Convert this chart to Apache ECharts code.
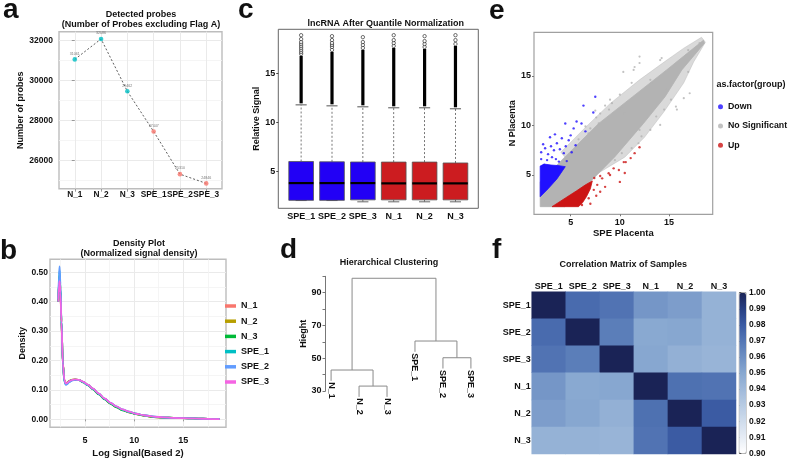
<!DOCTYPE html>
<html>
<head>
<meta charset="utf-8">
<title>Microarray QC figure</title>
<script src="https://cdn.jsdelivr.net/npm/echarts@6.0.0/dist/echarts.min.js"></script>
<style>
html,body{margin:0;padding:0;background:#ffffff;}
#chart{width:789px;height:460px;}
</style>
</head>
<body>
<div id="chart"></div>
<script>
// ================= DATA =================
// (a) Detected probes
const probeSamples = ['N_1', 'N_2', 'N_3', 'SPE_1', 'SPE_2', 'SPE_3'];
const probeCounts = [31061, 32086, 29462, 27447, 25310, 24846];
const probeGroups = ['N', 'N', 'N', 'SPE', 'SPE', 'SPE'];
const probeTicks = [26000, 28000, 30000, 32000];
const probeMinorTicks = [25000, 27000, 29000, 31000];

// (b) Density plot
const densitySeriesNames = ['N_1', 'N_2', 'N_3', 'SPE_1', 'SPE_2', 'SPE_3'];
const densityX = [2.28, 2.35, 2.42, 2.5, 2.6, 2.75, 2.9, 3.05, 3.2, 3.4, 3.7, 4.0, 4.4, 4.8, 5.3, 5.8,
  6.4, 7.0, 7.6, 8.2, 8.8, 9.5, 10.2, 11, 12, 13, 14, 15, 16, 17, 18, 18.7];
const densityN1 = [0.40, 0.46, 0.48, 0.44, 0.33, 0.19, 0.133, 0.123, 0.126, 0.131, 0.134, 0.135, 0.133, 0.127, 0.117, 0.104,
  0.086, 0.069, 0.054, 0.042, 0.032, 0.024, 0.018, 0.013, 0.008, 0.006, 0.005, 0.004, 0.003, 0.002, 0.001, 0.0005];
const densityN2 = [0.40, 0.46, 0.485, 0.44, 0.33, 0.19, 0.133, 0.122, 0.125, 0.131, 0.135, 0.136, 0.134, 0.127, 0.117, 0.103,
  0.086, 0.069, 0.054, 0.042, 0.032, 0.024, 0.018, 0.013, 0.008, 0.006, 0.005, 0.004, 0.003, 0.002, 0.001, 0.0005];
const densityN3 = [0.40, 0.465, 0.49, 0.445, 0.335, 0.19, 0.131, 0.12, 0.123, 0.13, 0.134, 0.135, 0.133, 0.126, 0.116, 0.102,
  0.085, 0.068, 0.053, 0.041, 0.031, 0.024, 0.018, 0.013, 0.008, 0.006, 0.005, 0.004, 0.003, 0.002, 0.001, 0.0005];
const densitySPE1 = [0.40, 0.475, 0.505, 0.45, 0.335, 0.187, 0.13, 0.119, 0.121, 0.128, 0.133, 0.135, 0.133, 0.127, 0.117, 0.104,
  0.087, 0.070, 0.055, 0.043, 0.033, 0.025, 0.019, 0.014, 0.009, 0.006, 0.005, 0.004, 0.003, 0.002, 0.001, 0.0005];
const densitySPE2 = [0.41, 0.49, 0.52, 0.46, 0.34, 0.185, 0.128, 0.117, 0.12, 0.127, 0.132, 0.134, 0.133, 0.127, 0.117, 0.104,
  0.087, 0.070, 0.056, 0.044, 0.034, 0.026, 0.019, 0.014, 0.009, 0.007, 0.005, 0.004, 0.003, 0.002, 0.001, 0.0005];
const densitySPE3 = [0.40, 0.455, 0.47, 0.43, 0.33, 0.19, 0.135, 0.122, 0.124, 0.130, 0.134, 0.136, 0.134, 0.128, 0.118, 0.105,
  0.088, 0.071, 0.056, 0.044, 0.034, 0.026, 0.019, 0.014, 0.009, 0.007, 0.005, 0.004, 0.003, 0.002, 0.001, 0.0005];
const densityTicksX = [5, 10, 15];
const densityMinorX = [2.5, 7.5, 12.5, 17.5];
const densityTicksY = [0, 0.1, 0.2, 0.3, 0.4, 0.5];
const densityMinorY = [0.05, 0.15, 0.25, 0.35, 0.45];

// (c) Boxplot after quantile normalization
const boxSamples = ['SPE_1', 'SPE_2', 'SPE_3', 'N_1', 'N_2', 'N_3'];
const boxGroups = ['SPE', 'SPE', 'SPE', 'N', 'N', 'N'];
const boxLow = [2.05, 2.05, 1.92, 1.92, 1.92, 1.92];
const boxQ1 = [2.07, 2.07, 2.12, 2.12, 2.12, 2.12];
const boxMedian = [3.83, 3.83, 3.83, 3.8, 3.8, 3.8];
const boxQ3 = [6.03, 6.0, 5.98, 5.97, 5.97, 5.88];
const boxHigh = [11.8, 11.7, 11.6, 11.5, 11.5, 11.4];
const outlierDenseTop = [16.8, 17.2, 17.4, 17.6, 17.5, 17.8];
const outlierSparse = [
  [17.0, 17.2, 17.4, 17.6, 17.8, 18.0, 18.2, 18.5, 18.9],
  [17.4, 17.7, 17.9, 18.1, 18.4, 18.8],
  [17.6, 17.9, 18.2, 18.7],
  [17.8, 18.1, 18.4, 18.9],
  [17.7, 18.0, 18.3, 18.8],
  [18.0, 18.4, 18.9]
];
const boxTicksY = [5, 10, 15];

// (d) Hierarchical clustering (leaves in plotted order; merge rows: negative = leaf, positive = earlier merge)
const dendroLabels = ['N_1', 'N_2', 'N_3', 'SPE_1', 'SPE_2', 'SPE_3'];
const dendroMerge = [[-2, -3], [-1, 1], [-5, -6], [-4, 3], [2, 4]];
const dendroHeights = [33.0, 42.8, 50.3, 60.5, 98.8];
const dendroTicks = [30, 40, 50, 60, 70, 80, 90, 100];
const dendroTickLabels = [30, 50, 70, 90];

// (e) Scatter SPE vs N placenta
const scatterTicks = [5, 10, 15];
const grayHaloPolygon = [[4.0, 7.3], [6.5, 9.8], [9.0, 12.2], [12.0, 14.6], [14.5, 16.4], [16.5, 17.8], [18.3, 18.9],
  [18.7, 18.4], [17.5, 16.4], [16.5, 14.3], [14.5, 11.4], [12.5, 8.8], [10.5, 6.8], [8.0, 5.3], [6.5, 4.3]];
const grayCorePolygon = [[1.9, 1.8], [1.9, 4.3], [4.45, 6.85], [7.85, 10.2], [11.3, 12.9], [14.75, 15.6], [16.5, 17.0],
  [18.5, 18.6], [18.6, 18.3], [16.3, 15.6], [14.6, 12.9], [12.4, 10.2], [9.5, 6.85], [6.15, 3.48], [4.4, 1.8]];
const bluePolygon = [[1.9, 2.8], [1.9, 5.9], [2.3, 6.1], [3.0, 6.0], [3.7, 5.95], [4.45, 5.84], [3.6, 4.6], [2.7, 3.6]];
const redPolygon = [[3.1, 1.8], [4.5, 2.7], [5.6, 3.4], [6.5, 4.0], [7.2, 4.4], [7.0, 3.6], [6.6, 2.8], [6.2, 2.2], [5.8, 1.8]];
const grayPoints = [[18.1, 18.3], [16.95, 17.6], [16.8, 17.1], [14.25, 16.8], [12.0, 16.95], [12.0, 16.3], [10.35, 15.4],
  [11.4, 15.6], [11.2, 14.3], [13.1, 14.6], [13.2, 14.3], [10.0, 13.1], [9.0, 12.6], [9.2, 12.25], [8.0, 11.2],
  [10.2, 11.7], [10.5, 11.2], [14.8, 13.6], [15.2, 12.6], [15.7, 11.9], [16.5, 12.75], [17.1, 13.25], [14.5, 11.6],
  [13.7, 10.9], [14.1, 10.05], [13.1, 9.55], [12.0, 9.55], [12.2, 8.9], [14.1, 16.6], [11.5, 15.9], [16.95, 15.4],
  [15.8, 11.6], [8.9, 11.6], [7.85, 10.2], [7.0, 9.7], [10.2, 7.2], [11.2, 7.7], [9.5, 6.5], [11.9, 8.2],
  [6.5, 9.9], [5.8, 8.6], [7.5, 11.5], [8.5, 12.0], [6.8, 9.2], [7.6, 10.8]];
const bluePoints = [[7.5, 12.9], [6.3, 12.0], [7.3, 11.3], [4.45, 10.2], [5.6, 10.4], [6.1, 10.2], [5.3, 9.7], [6.5, 9.4],
  [2.9, 8.8], [4.1, 8.7], [5.0, 9.0], [3.6, 8.2], [2.4, 7.7], [4.5, 7.9], [3.3, 7.5], [4.3, 7.2], [3.1, 6.8], [2.6, 6.5],
  [3.8, 6.35], [2.3, 6.0], [2.0, 7.3], [2.2, 8.1], [3.0, 7.9], [2.7, 7.1], [3.9, 7.6], [4.8, 8.5], [3.4, 9.1], [5.5, 8.0],
  [2.0, 6.6], [3.5, 6.6], [4.6, 6.4], [5.1, 7.3]];
const redPoints = [[11.1, 6.7], [10.4, 6.3], [9.9, 5.5], [9.37, 5.67], [8.86, 5.17], [10.0, 4.3], [8.2, 4.66], [8.5, 3.8],
  [7.7, 4.0], [7.35, 3.5], [6.5, 3.15], [6.83, 2.65], [5.8, 2.3], [6.15, 1.97], [12.0, 7.8], [11.5, 7.2], [10.5, 5.2],
  [10.6, 6.3], [8.0, 4.9], [7.4, 4.7], [9.0, 5.0], [7.6, 2.9], [7.0, 2.1], [8.0, 3.3]];

// (f) Correlation matrix
const corrLabels = ['SPE_1', 'SPE_2', 'SPE_3', 'N_1', 'N_2', 'N_3'];
const corrMatrix = [
  [1.000, 0.974, 0.971, 0.957, 0.954, 0.944],
  [0.974, 1.000, 0.967, 0.949, 0.950, 0.944],
  [0.971, 0.967, 1.000, 0.950, 0.945, 0.943],
  [0.957, 0.949, 0.950, 1.000, 0.972, 0.971],
  [0.954, 0.950, 0.945, 0.972, 1.000, 0.980],
  [0.944, 0.944, 0.943, 0.971, 0.980, 1.000]
];
const colorbarTicks = [0.90, 0.91, 0.92, 0.93, 0.94, 0.95, 0.96, 0.97, 0.98, 0.99, 1.00];

// ================= STYLE =================
const FONT = '"Liberation Sans", Arial, Helvetica, sans-serif';
const TXT = '#111111';
const lab = (size, extra) => Object.assign({fontFamily: FONT, fontWeight: 'bold', fontSize: size || 9, color: TXT,
  hideOverlap: false, showMinLabel: true, showMaxLabel: true}, extra || {});
const nameStyle = (size) => ({fontFamily: FONT, fontWeight: 'bold', fontSize: size || 9, color: TXT});
const GRIDLINE = '#EAEAEA';
const MINORLINE = '#F3F3F3';
const groupColor = {N: '#00BFC4', SPE: '#F8766D'};
const boxFill = {SPE: '#2200F5', N: '#CC1C20'};
const densityColors = ['#F8766D', '#B79F00', '#00BA38', '#00BFC4', '#619CFF', '#F564E3'];
const cbColors = ['#ffffff', '#e6ecf5', '#cfdcec', '#b7cbe3', '#9fb9da', '#87a7d0', '#6d8fc3', '#5376b5', '#3b5ba3', '#273f82', '#1a2356'];

function minorAxis(gridIndex, min, max, values, position) {
  return {gridIndex, type: 'value', min, max, position,
    axisLine: {show: false}, axisTick: {show: false, customValues: values}, axisLabel: {show: false},
    splitLine: {show: true, lineStyle: {color: MINORLINE, width: 0.8}}};
}

const grid = [
  {left: 59, top: 31.7, width: 163, height: 157, show: true, borderColor: '#BDBDBD', borderWidth: 1.4, outerBoundsMode: 'none'},
  {left: 50, top: 259.3, width: 176, height: 168, show: true, borderColor: '#BDBDBD', borderWidth: 1.4, outerBoundsMode: 'none'},
  {left: 278.3, top: 29.3, width: 200, height: 179, show: true, borderColor: '#666', borderWidth: 1, outerBoundsMode: 'none'},
  {left: 325.5, top: 276.3, width: 151, height: 114.7, show: false, outerBoundsMode: 'none'},
  {left: 534, top: 32.3, width: 178.7, height: 182, show: true, borderColor: '#A0A0A0', borderWidth: 1.2, outerBoundsMode: 'none'},
  {left: 531.7, top: 291.7, width: 204.3, height: 162.3, show: false, outerBoundsMode: 'none'},
  {left: 739.3, top: 292.7, width: 6.7, height: 160.6, show: true, borderColor: '#888', borderWidth: 0.8, outerBoundsMode: 'none'}
];

const probeIdx = probeSamples.map((_, i) => i);
const boxIdx = boxSamples.map((_, i) => i + 1);

const xAxis = [
  // 0: a
  {gridIndex: 0, type: 'value', min: -0.6, max: 5.6, axisLine: {show: false},
    axisTick: {length: 3, customValues: probeIdx, lineStyle: {color: '#999'}},
    axisLabel: Object.assign({customValues: probeIdx, formatter: v => probeSamples[Math.round(v)], margin: 2}, lab(8.3)),
    splitLine: {show: true, lineStyle: {color: GRIDLINE, width: 1}}},
  // 1: b
  {gridIndex: 1, type: 'value', min: 1.44, max: 19.34, axisLine: {show: false},
    axisTick: {length: 2, customValues: densityTicksX, lineStyle: {color: '#999'}},
    axisLabel: Object.assign({customValues: densityTicksX, margin: 9}, lab(9)),
    splitLine: {show: true, lineStyle: {color: GRIDLINE, width: 1}},
    name: 'Log Signal(Based 2)', nameLocation: 'middle', nameGap: 21, nameTextStyle: nameStyle(9.5)},
  // 2: b minor
  minorAxis(1, 1.44, 19.34, densityMinorX, 'top'),
  // 3: c
  {gridIndex: 2, type: 'value', min: 0.26, max: 6.74, axisLine: {show: false}, axisTick: {show: false, customValues: boxIdx},
    axisLabel: Object.assign({customValues: boxIdx, formatter: v => boxSamples[Math.round(v) - 1], margin: 4}, lab(9)),
    splitLine: {show: false}},
  // 4: d
  {gridIndex: 3, type: 'value', min: 0.8, max: 6.2, show: false},
  // 5: e
  {gridIndex: 4, type: 'value', min: 1.27, max: 19.44, axisLine: {show: false},
    axisTick: {length: 2, customValues: scatterTicks, lineStyle: {color: '#777'}},
    axisLabel: Object.assign({customValues: scatterTicks, margin: 4}, lab(9)),
    splitLine: {show: false},
    name: 'SPE Placenta', nameLocation: 'middle', nameGap: 11, nameTextStyle: nameStyle(9.5)},
  // 6: f
  {gridIndex: 5, type: 'category', data: corrLabels, position: 'top', axisLine: {show: false}, axisTick: {show: false},
    axisLabel: Object.assign({margin: 1, interval: 0}, lab(9)), splitLine: {show: false}},
  // 7: colorbar
  {gridIndex: 6, type: 'value', min: 0, max: 1, show: false}
];

const yAxis = [
  // 0: a
  {gridIndex: 0, type: 'value', min: 24580, max: 32450, axisLine: {show: false},
    axisTick: {length: 3, customValues: probeTicks, lineStyle: {color: '#999'}},
    axisLabel: Object.assign({customValues: probeTicks, formatter: v => String(Math.round(v)), margin: 6}, lab(8.5)),
    splitLine: {show: true, lineStyle: {color: GRIDLINE, width: 1}},
    name: 'Number of probes', nameLocation: 'middle', nameGap: 29, nameTextStyle: nameStyle(9)},
  // 1: a minor
  minorAxis(0, 24580, 32450, probeMinorTicks, 'right'),
  // 2: b
  {gridIndex: 1, type: 'value', min: -0.027, max: 0.544, axisLine: {show: false},
    axisTick: {show: false, customValues: densityTicksY},
    axisLabel: Object.assign({customValues: densityTicksY, formatter: v => v.toFixed(2), margin: 2}, lab(8.5)),
    splitLine: {show: true, lineStyle: {color: GRIDLINE, width: 1}},
    name: 'Density', nameLocation: 'middle', nameGap: 23, nameTextStyle: nameStyle(9)},
  // 3: b minor
  minorAxis(1, -0.027, 0.544, densityMinorY, 'right'),
  // 4: c
  {gridIndex: 2, type: 'value', min: 1.26, max: 19.5, axisLine: {show: false},
    axisTick: {length: 2, customValues: boxTicksY, lineStyle: {color: '#444'}},
    axisLabel: Object.assign({customValues: boxTicksY, margin: 3}, lab(9)),
    splitLine: {show: false},
    name: 'Relative Signal', nameLocation: 'middle', nameGap: 13, nameTextStyle: nameStyle(9)},
  // 5: d
  {gridIndex: 3, type: 'value', min: 30, max: 100, axisLine: {show: true, lineStyle: {color: '#777', width: 1}},
    axisTick: {length: 3, customValues: dendroTicks, lineStyle: {color: '#777'}},
    axisLabel: Object.assign({customValues: dendroTickLabels, margin: 4}, lab(9)),
    splitLine: {show: false},
    name: 'Hieght', nameLocation: 'middle', nameGap: 15, nameTextStyle: nameStyle(9)},
  // 6: e
  {gridIndex: 4, type: 'value', min: 1.03, max: 19.4, axisLine: {show: false},
    axisTick: {length: 2, customValues: scatterTicks, lineStyle: {color: '#777'}},
    axisLabel: Object.assign({customValues: scatterTicks, margin: 3}, lab(9)),
    splitLine: {show: false},
    name: 'N Placenta', nameLocation: 'middle', nameGap: 13, nameTextStyle: nameStyle(9)},
  // 7: f
  {gridIndex: 5, type: 'category', data: corrLabels, inverse: true, axisLine: {show: false}, axisTick: {show: false},
    axisLabel: Object.assign({margin: 1, interval: 0}, lab(9)), splitLine: {show: false}},
  // 8: colorbar
  {gridIndex: 6, type: 'value', min: 0.9, max: 1.0, position: 'right', axisLine: {show: false},
    axisTick: {length: 2, customValues: colorbarTicks, lineStyle: {color: '#555'}},
    axisLabel: Object.assign({customValues: colorbarTicks, formatter: v => v.toFixed(2), margin: 3}, lab(8.5)),
    splitLine: {show: false}}
];

// ================= SERIES =================
const series = [];

// (a)
series.push({type: 'line', name: 'probeLine', xAxisIndex: 0, yAxisIndex: 0, silent: true,
  data: probeCounts.map((v, i) => [i, v]), symbol: 'none',
  lineStyle: {color: '#333', width: 0.8, type: [2, 2]}, z: 2});
series.push({type: 'scatter', name: 'probePoints', xAxisIndex: 0, yAxisIndex: 0, symbolSize: 4.6, z: 3,
  data: probeCounts.map((v, i) => ({value: [i, v], itemStyle: {color: groupColor[probeGroups[i]]}})),
  label: {show: true, position: 'top', distance: 1.5, fontSize: 3.6, color: '#555', fontFamily: FONT,
    formatter: p => String(p.value[1])}});

// (b)
const densityData = [densityN1, densityN2, densityN3, densitySPE1, densitySPE2, densitySPE3];
densitySeriesNames.forEach((n, i) => {
  series.push({type: 'line', name: n, xAxisIndex: 1, yAxisIndex: 2, silent: true,
    data: densityX.map((x, k) => [x, densityData[i][k]]),
    smooth: 0.3, smoothMonotone: 'x', symbol: 'none',
    lineStyle: {color: densityColors[i], width: 1.8}, itemStyle: {color: densityColors[i]}, z: 3});
});

// (c) boxes
series.push({type: 'custom', name: 'boxes', xAxisIndex: 3, yAxisIndex: 4, silent: true, z: 3,
  data: boxSamples.map((s, i) => [i + 1, boxLow[i], boxQ1[i], boxMedian[i], boxQ3[i], boxHigh[i]]),
  encode: {x: 0, y: [1, 2, 3, 4, 5]},
  renderItem(params, api) {
    const x = api.value(0);
    const low = api.coord([x, api.value(1)]);
    const q1 = api.coord([x, api.value(2)]);
    const med = api.coord([x, api.value(3)]);
    const q3 = api.coord([x, api.value(4)]);
    const high = api.coord([x, api.value(5)]);
    const hw = api.size([0.8, 0])[0] / 2;
    const cap = hw * 0.45;
    const fill = boxFill[boxGroups[params.dataIndex]];
    const dash = {stroke: '#555', lineWidth: 0.8, lineDash: [2, 2]};
    return {type: 'group', children: [
      {type: 'line', shape: {x1: q3[0], y1: q3[1], x2: high[0], y2: high[1]}, style: dash},
      {type: 'line', shape: {x1: low[0], y1: low[1], x2: q1[0], y2: q1[1]}, style: dash},
      {type: 'line', shape: {x1: high[0] - cap, y1: high[1], x2: high[0] + cap, y2: high[1]}, style: {stroke: '#555', lineWidth: 1}},
      {type: 'line', shape: {x1: low[0] - cap, y1: low[1], x2: low[0] + cap, y2: low[1]}, style: {stroke: '#666', lineWidth: 1}},
      {type: 'rect', shape: {x: q3[0] - hw, y: q3[1], width: 2 * hw, height: q1[1] - q3[1]}, style: {fill, stroke: '#555', lineWidth: 0.8}},
      {type: 'line', shape: {x1: med[0] - hw, y1: med[1], x2: med[0] + hw, y2: med[1]}, style: {stroke: '#000', lineWidth: 2.2}}
    ]};
  }});
// (c) dense outlier columns
series.push({type: 'custom', name: 'outlierDense', xAxisIndex: 3, yAxisIndex: 4, silent: true, z: 4,
  data: boxSamples.map((s, i) => [i + 1, boxHigh[i], outlierDenseTop[i]]),
  encode: {x: 0, y: [1, 2]},
  renderItem(params, api) {
    const a = api.coord([api.value(0), api.value(1)]);
    const b = api.coord([api.value(0), api.value(2)]);
    return {type: 'line', shape: {x1: a[0], y1: a[1] - 1.5, x2: b[0], y2: b[1]}, style: {stroke: '#000', lineWidth: 3.2}};
  }});
// (c) sparse outliers
series.push({type: 'scatter', name: 'outliers', xAxisIndex: 3, yAxisIndex: 4, silent: true, z: 5,
  symbol: 'circle', symbolSize: 3.4,
  itemStyle: {color: '#ffffff', borderColor: '#000', borderWidth: 0.7},
  data: outlierSparse.flatMap((vals, i) => vals.map(v => [i + 1, v]))});

// (d) dendrogram
const hang = 0.1 * (Math.max(...dendroHeights) - Math.min(...dendroHeights));
const nodeX = [];
const leafEnds = [];
const dendroSegments = [];
dendroMerge.forEach((pair, k) => {
  const h = dendroHeights[k];
  const xs = pair.map(m => (m < 0 ? -m : nodeX[m - 1]));
  const bottoms = pair.map(m => (m < 0 ? h - hang : dendroHeights[m - 1]));
  dendroSegments.push([xs[0], h, xs[1], h]);
  dendroSegments.push([xs[0], h, xs[0], bottoms[0]]);
  dendroSegments.push([xs[1], h, xs[1], bottoms[1]]);
  pair.forEach((m, j) => { if (m < 0) leafEnds[-m - 1] = bottoms[j]; });
  nodeX[k] = (xs[0] + xs[1]) / 2;
});
series.push({type: 'custom', name: 'dendrogram', xAxisIndex: 4, yAxisIndex: 5, silent: true, clip: false,
  data: dendroSegments, encode: {x: [0, 2], y: [1, 3]},
  renderItem(params, api) {
    const p1 = api.coord([api.value(0), api.value(1)]);
    const p2 = api.coord([api.value(2), api.value(3)]);
    return {type: 'line', shape: {x1: p1[0], y1: p1[1], x2: p2[0], y2: p2[1]}, style: {stroke: '#8a8a8a', lineWidth: 1}};
  }});
series.push({type: 'custom', name: 'dendroLabels', xAxisIndex: 4, yAxisIndex: 5, silent: true, clip: false,
  data: dendroLabels.map((n, i) => [i + 1, leafEnds[i]]), encode: {x: 0, y: 1},
  renderItem(params, api) {
    const p = api.coord([api.value(0), api.value(1)]);
    return {type: 'text', x: p[0], y: p[1] + 1.5, rotation: -Math.PI / 2,
      style: {text: dendroLabels[params.dataIndex], fill: TXT, font: 'bold 9px ' + FONT,
        align: 'left', verticalAlign: 'middle', textAlign: 'left', textVerticalAlign: 'middle'}};
  }});

// (e) scatter
function polygonSeries(name, pts, color, opacity) {
  return {type: 'custom', name, xAxisIndex: 5, yAxisIndex: 6, silent: true, clip: true, data: pts,
    encode: {x: 0, y: 1},
    renderItem(params, api) {
      if (params.dataIndex !== 0) return null;
      return {type: 'polygon', shape: {points: pts.map(p => api.coord(p))},
        style: {fill: color, opacity: opacity, stroke: color, lineWidth: 0.8}};
    }};
}
series.push(polygonSeries('grayHalo', grayHaloPolygon, '#B5B5B5', 0.5));
series.push(polygonSeries('grayCore', grayCorePolygon, '#B3B3B3', 1));
series.push({type: 'scatter', name: 'No Significant', xAxisIndex: 5, yAxisIndex: 6, silent: true,
  symbolSize: 2.2, itemStyle: {color: '#B3B3B3'}, data: grayPoints});
series.push(polygonSeries('blueCore', bluePolygon, '#2010FF', 1));
series.push({type: 'scatter', name: 'Down', xAxisIndex: 5, yAxisIndex: 6, silent: true,
  symbolSize: 2.4, itemStyle: {color: '#2010FF'}, data: bluePoints});
series.push(polygonSeries('redCore', redPolygon, '#CC1414', 1));
series.push({type: 'scatter', name: 'Up', xAxisIndex: 5, yAxisIndex: 6, silent: true,
  symbolSize: 2.4, itemStyle: {color: '#CC1414'}, data: redPoints});

// (f) heatmap
const heatIndex = series.length;
const heatData = [];
corrMatrix.forEach((row, r) => row.forEach((v, c) => heatData.push([c, r, v])));
series.push({type: 'heatmap', name: 'correlation', xAxisIndex: 6, yAxisIndex: 7, data: heatData,
  silent: true, itemStyle: {borderWidth: 0}, emphasis: {disabled: true}});

// ================= TEXT =================
function gtext(text, x, y, size, align) {
  return {type: 'text', x, y, silent: true, z: 100,
    style: {text, font: 'bold ' + size + 'px ' + FONT, fill: TXT,
      textAlign: align || 'center', textVerticalAlign: 'middle', align: align || 'center', verticalAlign: 'middle'}};
}
const graphics = [
  gtext('a', 3, 10, 28, 'left'),
  gtext('c', 238, 10, 28, 'left'),
  gtext('e', 489, 11, 28, 'left'),
  gtext('b', 0, 251.5, 28, 'left'),
  gtext('d', 280, 250.5, 28, 'left'),
  gtext('f', 492, 250.5, 28, 'left'),
  gtext('Detected probes', 141, 14.3, 9),
  gtext('(Number of Probes excluding Flag A)', 141, 24.8, 9),
  gtext('Density Plot', 139, 243.5, 9),
  gtext('(Normalized signal density)', 139, 253.5, 9),
  gtext('lncRNA After Quantile Normalization', 385.8, 23.3, 9),
  gtext('Hierarchical Clustering', 389, 262.7, 9),
  gtext('Correlation Matrix of Samples', 623.3, 265, 9),
  gtext('as.factor(group)', 716.5, 85, 9, 'left')
];

const option = {
  animation: false,
  backgroundColor: '#ffffff',
  textStyle: {fontFamily: FONT},
  grid, xAxis, yAxis, series,
  legend: [
    {data: densitySeriesNames, orient: 'vertical', left: 225, top: 300.5, padding: 0,
      icon: 'rect', itemWidth: 11, itemHeight: 3.5, itemGap: 4.2, selectedMode: false,
      textStyle: {fontFamily: FONT, fontWeight: 'bold', fontSize: 9, color: TXT, lineHeight: 11}},
    {data: ['Down', 'No Significant', 'Up'], orient: 'vertical', left: 718, top: 100.7, padding: 0,
      icon: 'circle', itemWidth: 5, itemHeight: 5, itemGap: 7.3, selectedMode: false,
      textStyle: {fontFamily: FONT, fontWeight: 'bold', fontSize: 8.8, color: TXT, lineHeight: 12}}
  ],
  visualMap: {type: 'continuous', seriesIndex: heatIndex, min: 0.9, max: 1.0, calculable: false,
    orient: 'vertical', left: 739.3, top: 292.7, itemWidth: 6.7, itemHeight: 160.6, padding: 0,
    hoverLink: false, inRange: {color: cbColors}},
  graphic: {elements: graphics}
};

const chart = echarts.init(document.getElementById('chart'), null, {renderer: 'canvas'});
chart.setOption(option);
</script>
</body>
</html>
